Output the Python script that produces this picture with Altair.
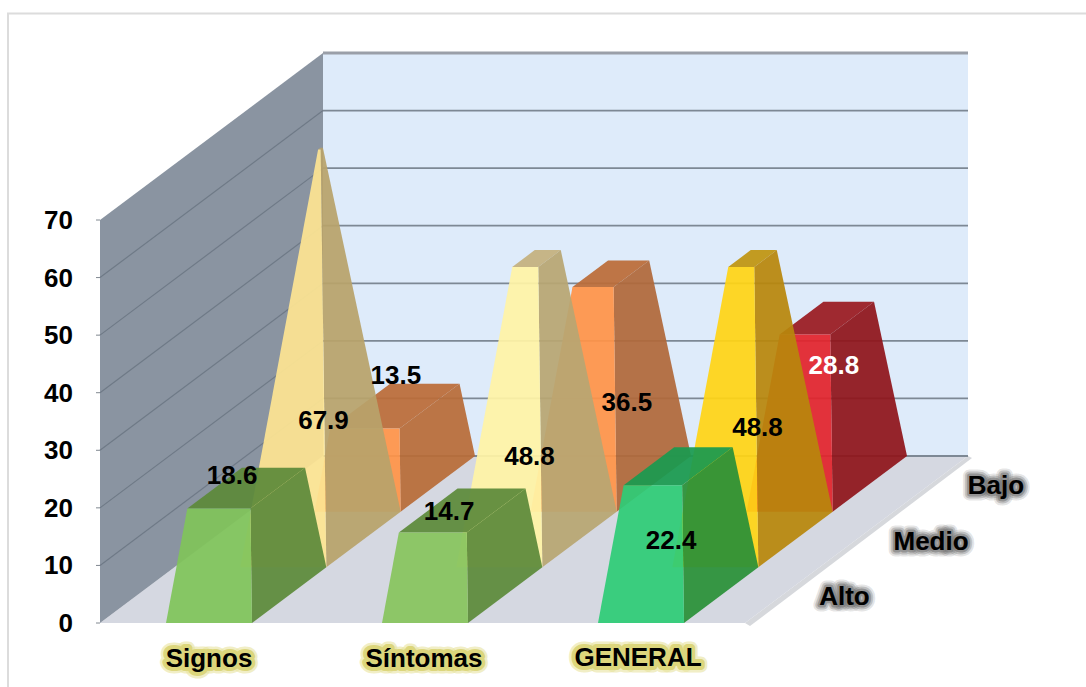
import altair as alt
import pandas as pd

categories = ["Signos", "Síntomas", "GENERAL"]
levels = ["Alto", "Medio", "Bajo"]
signos = [18.6, 67.9, 13.5]
sintomas = [14.7, 48.8, 36.5]
general = [22.4, 48.8, 28.8]
axis_ticks = [0, 10, 20, 30, 40, 50, 60, 70]

# Face colours per category and level
front_colors = [
    ["#80c45a", "#fde492", "#ff9348"],
    ["#88c45e", "#fff3a6", "#ff9348"],
    ["#2ecb76", "#ffd416", "#e2232c"],
]
side_colors = [
    ["#5c8a3a", "#b8a26a", "#b86c38"],
    ["#5c8a3a", "#b8a672", "#b0683a"],
    ["#2a9038", "#b8860c", "#8f141b"],
]
top_colors = [
    ["#5c8a3a", "#b8a26a", "#bb6c38"],
    ["#5c8a3a", "#c4b07e", "#bb6c38"],
    ["#1a9a50", "#c09410", "#9a1a20"],
]

# Oblique projection of the 3-D box
ORIGIN_X, ORIGIN_Y = 100.0, 623.0
UNIT_Y = 403.0 / 70.0
ROW_DX, ROW_DY = 223.0 / 3.0, -167.0 / 3.0
CAT_WIDTH = 216.0
BAR_WIDTH = 86.0
CAT_OFFSET = 66.0
AXIS_MAX = 70.0
FLOOR_WIDTH = 645.0


def project(px, depth, value):
    """px: pixels along the front edge, depth: in rows, value: in axis units."""
    return (
        ORIGIN_X + px + depth * ROW_DX,
        ORIGIN_Y + depth * ROW_DY - value * UNIT_Y,
    )


polygons = []


def add_polygon(name, color, opacity, corners):
    for i, (x, y) in enumerate(corners):
        polygons.append(
            {"poly": name, "color": color, "op": opacity, "i": i, "x": x, "y": y}
        )


# Walls and floor
add_polygon("a_floor_edge", "#d6d8dc", 1, [
    project(FLOOR_WIDTH, 0, 0), project(FLOOR_WIDTH, 3, 0),
    (project(FLOOR_WIDTH, 3, 0)[0] + 4, project(FLOOR_WIDTH, 3, 0)[1] + 2),
    (project(FLOOR_WIDTH, 0, 0)[0] + 5, project(FLOOR_WIDTH, 0, 0)[1] + 3),
])
add_polygon("b_floor", "#d5d8e1", 1, [
    project(0, 0, 0), project(FLOOR_WIDTH, 0, 0), project(FLOOR_WIDTH, 3, 0), project(0, 3, 0),
])
add_polygon("c_left_wall", "#8a94a1", 1, [
    project(0, 0, 0), project(0, 0, AXIS_MAX), project(0, 3, AXIS_MAX), project(0, 3, 0),
])
add_polygon("d_back_wall", "#deebfa", 1, [
    project(0, 3, 0), project(FLOOR_WIDTH, 3, 0), project(FLOOR_WIDTH, 3, AXIS_MAX), project(0, 3, AXIS_MAX),
])
walls = pd.DataFrame(polygons)

# Grid lines on both walls
grid_rows = []
for t in axis_ticks:
    for k, d in enumerate([0, 3]):
        x, y = project(0, d, t)
        grid_rows.append({"line": f"l{t}", "i": k, "x": x, "y": y, "t": t})
    for k, px in enumerate([0, FLOOR_WIDTH]):
        x, y = project(px, 3, t)
        grid_rows.append({"line": f"b{t}", "i": k, "x": x, "y": y, "t": t})
grid = pd.DataFrame(grid_rows)

# Truncated pyramids, drawn from the back row to the front row
polygons = []
series = [signos, sintomas, general]
for row in (2, 1, 0):
    for c in range(3):
        v = series[c][row]
        f = v / AXIS_MAX
        left = CAT_WIDTH * c + CAT_OFFSET
        right = left + BAR_WIDTH
        tl = left + f * BAR_WIDTH / 2
        tr = right - f * BAR_WIDTH / 2
        d0, d1 = row + f / 2, row + 1 - f / 2
        key = f"r{2 - row}c{c}"
        add_polygon(key + "_top", top_colors[c][row], 0.93, [
            project(tl, d0, v), project(tr, d0, v), project(tr, d1, v), project(tl, d1, v),
        ])
        add_polygon(key + "_side", side_colors[c][row], 0.93, [
            project(right, row, 0), project(right, row + 1, 0),
            project(tr, d1, v), project(tr, d0, v),
        ])
        add_polygon(key + "_front", front_colors[c][row], 0.93, [
            project(left, row, 0), project(right, row, 0),
            project(tr, d0, v), project(tl, d0, v),
        ])
bars = pd.DataFrame(polygons)

X = alt.X("x:Q", scale=alt.Scale(domain=[0, 1086], nice=False, zero=False), axis=None)
Y = alt.Y("y:Q", scale=alt.Scale(domain=[687, 0], nice=False, zero=False), axis=None)


def shapes(df):
    return alt.Chart(df).mark_line(strokeWidth=0, interpolate="linear").encode(
        x=X, y=Y,
        fill=alt.Fill("color:N", scale=None),
        opacity=alt.Opacity("op:Q", scale=None),
        detail="poly:N",
        order="i:Q",
    )


wall_layer = shapes(walls)
left_grid = alt.Chart(grid[grid.line.str.startswith("l") & (grid.t > 0) & (grid.t < 70)]).mark_line(
    stroke="#6f7a87", strokeWidth=1.2
).encode(x=X, y=Y, detail="line:N", order="i:Q")
back_grid = alt.Chart(grid[grid.line.str.startswith("b") & (grid.t < 70)]).mark_line(
    stroke="#7d8894", strokeWidth=1.8
).encode(x=X, y=Y, detail="line:N", order="i:Q")
top_edge = alt.Chart(grid[grid.line == "b70"]).mark_line(
    stroke="#9a9fa8", strokeWidth=3
).encode(x=X, y=Y, order="i:Q")
bar_layer = shapes(bars)

# Frame around the picture
frame = pd.DataFrame({"x": [8, 8, 1086], "y": [687, 13.5, 13.5], "i": [0, 1, 2]})
frame_layer = alt.Chart(frame).mark_line(stroke="#dcdcdc", strokeWidth=2).encode(
    x=X, y=Y, order="i:Q"
)

# Tick marks on the value axis
tick_rows = []
for t in axis_ticks:
    x, y = project(0, 0, t)
    tick_rows += [{"t": t, "i": 0, "x": x - 4, "y": y}, {"t": t, "i": 1, "x": x, "y": y}]
tick_layer = alt.Chart(pd.DataFrame(tick_rows)).mark_line(
    stroke="#808890", strokeWidth=1
).encode(x=X, y=Y, detail="t:N", order="i:Q")

TEXT = dict(font="Liberation Sans", fontWeight="bold", fontSize=26)


def text_layer(df, align="center", color="#000000", **extra):
    return alt.Chart(df).mark_text(align=align, baseline="middle", color=color, **TEXT, **extra).encode(
        x=X, y=Y, text="label:N"
    )


axis_labels = pd.DataFrame(
    [{"label": str(t), "x": 73, "y": project(0, 0, t)[1] + 1} for t in axis_ticks]
)
axis_text = text_layer(axis_labels, align="right")

cat_positions = [(209, 659), (424, 659), (638, 658)]
cat_labels = pd.DataFrame(
    [{"label": n, "x": p[0], "y": p[1]} for n, p in zip(categories, cat_positions)]
)
cat_glow = [
    text_layer(cat_labels, color="#dfda84", stroke="#e8e4a0", strokeWidth=13, strokeOpacity=0.6, strokeJoin="round"),
    text_layer(cat_labels, color="#dfda84", stroke="#dcd67c", strokeWidth=8, strokeOpacity=1, strokeJoin="round"),
]
cat_text = text_layer(cat_labels)

level_rows = []
for r, n in enumerate(levels):
    x, y = project(FLOOR_WIDTH, r + 0.5, 0)
    level_rows.append({"label": n, "x": x + 37, "y": y + 2})
level_labels = pd.DataFrame(level_rows)
level_glow = [
    text_layer(level_labels, align="left", color="#777777", stroke="#777777", strokeWidth=w,
               strokeOpacity=o, strokeJoin="round")
    for w, o in [(13, 0.2), (9, 0.35), (5, 0.6)]
]
level_text = text_layer(level_labels, align="left")

# Data labels, offset by hand from the centre of each pyramid's base
label_offsets = [
    [(-14, -119), (3, -119), (1, -108)],
    [(-13, -83), (-7, -83), (16, -81)],
    [(-7, -54), (5, -112), (7, -118)],
]
value_rows = []
for c in range(3):
    for r in range(3):
        x, y = project(CAT_WIDTH * c + CAT_OFFSET + BAR_WIDTH / 2, r + 0.5, 0)
        dx, dy = label_offsets[c][r]
        value_rows.append({"label": f"{series[c][r]:.1f}", "x": x + dx, "y": y + dy,
                           "c": "#ffffff" if (c, r) == (2, 2) else "#000000"})
value_df = pd.DataFrame(value_rows)
value_text = alt.Chart(value_df).mark_text(align="center", baseline="middle", **TEXT).encode(
    x=X, y=Y, text="label:N", color=alt.Color("c:N", scale=None)
)

chart = alt.layer(
    frame_layer, wall_layer, left_grid, back_grid, top_edge, tick_layer, bar_layer,
    axis_text, *cat_glow, cat_text, *level_glow, level_text, value_text,
).properties(
    width=1086, height=687, padding=0, background="#ffffff",
    autosize=alt.AutoSizeParams(type="none"),
).configure_view(stroke=None)

chart.save("out.html", embed_options={"renderer": "svg", "actions": False})
